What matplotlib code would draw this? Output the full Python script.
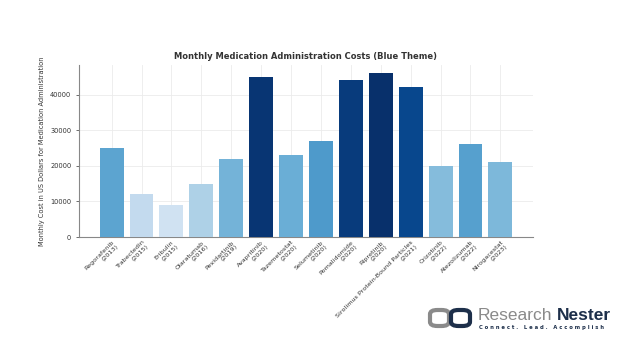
import numpy as np
import matplotlib.pyplot as plt
from matplotlib.patches import FancyBboxPatch

# data
drugs = ['Regorafenib\n(2013)', 'Trabectedin\n(2015)', 'Eribulin\n(2015)', 'Olaratumab\n(2016)',
         'Pexidartinib\n(2019)', 'Avapritinib\n(2020)', 'Tazemetostat\n(2020)', 'Selumetinib\n(2020)',
         'Pomalidomide\n(2020)', 'Ripretinib\n(2020)', 'Sirolimus Protein-Bound Particles\n(2021)',
         'Crizotinib\n(2022)', 'Atezolizumab\n(2022)', 'Nirogacestat\n(2023)']
costs = [25000, 12000, 9000, 15000, 22000, 45000, 23000, 27000, 44000, 46000, 42000, 20000, 26000, 21000]

fig = plt.figure(figsize=(6.24, 3.5), dpi=100)
ax = fig.add_axes([79 / 624, 1 - 237 / 350, (533 - 79) / 624, (237 - 65) / 350])

vals = np.array(costs)
colors = plt.cm.Blues(vals / vals.max())
x = np.arange(len(drugs))
ax.bar(x, costs, width=0.8, color=colors, zorder=3)

ax.set_xticks(x)
ax.set_xticklabels(drugs, rotation=45, ha='right', rotation_mode='anchor', fontsize=4.6, color='#333333')
ax.tick_params(axis='y', labelsize=4.8, colors='#333333', length=2, width=0.5)
ax.tick_params(axis='x', length=0, pad=2)
ax.set_yticks([0, 10000, 20000, 30000, 40000])
ax.grid(True, color='#ebebeb', linewidth=0.6, zorder=0)
for s in ['top', 'right']:
    ax.spines[s].set_visible(False)
for s in ['left', 'bottom']:
    ax.spines[s].set_color('#888888')
    ax.spines[s].set_linewidth(0.8)

ax.set_title('Monthly Medication Administration Costs (Blue Theme)', fontsize=6, fontweight='bold',
             color='#333333', pad=4)
ax.set_ylabel('Monthly Cost in US Dollars for Medication Administration', fontsize=4.8, color='#333333')

# logo
for x0, c in [(430, '#8a8a8a'), (451, '#1d2f4a')]:
    fig.patches.append(FancyBboxPatch((x0 / 624, 1 - 326 / 350), 19 / 624, 16 / 350,
                                      boxstyle='round,pad=0,rounding_size=0.012',
                                      transform=fig.transFigure, fill=False, ec=c, lw=3.0))
t1 = fig.text(478 / 624, 1 - 315 / 350, 'Research', fontsize=12.5, color='#8a8a8a', va='center', ha='left',
              family='Liberation Sans')
fig.canvas.draw()
bb = t1.get_window_extent()
fig.text(bb.x1 / 624 + 4 / 624, 1 - 315 / 350, 'Nester', fontsize=12.5, color='#1d2f4a', va='center', ha='left',
         fontweight='bold', family='Liberation Sans')
fig.text(479 / 624, 1 - 328 / 350, 'C o n n e c t .   L e a d .   A c c o m p l i s h', fontsize=3.8,
         color='#1d2f4a', va='center', ha='left', fontweight='bold')

fig.savefig('out.png', dpi=100)
